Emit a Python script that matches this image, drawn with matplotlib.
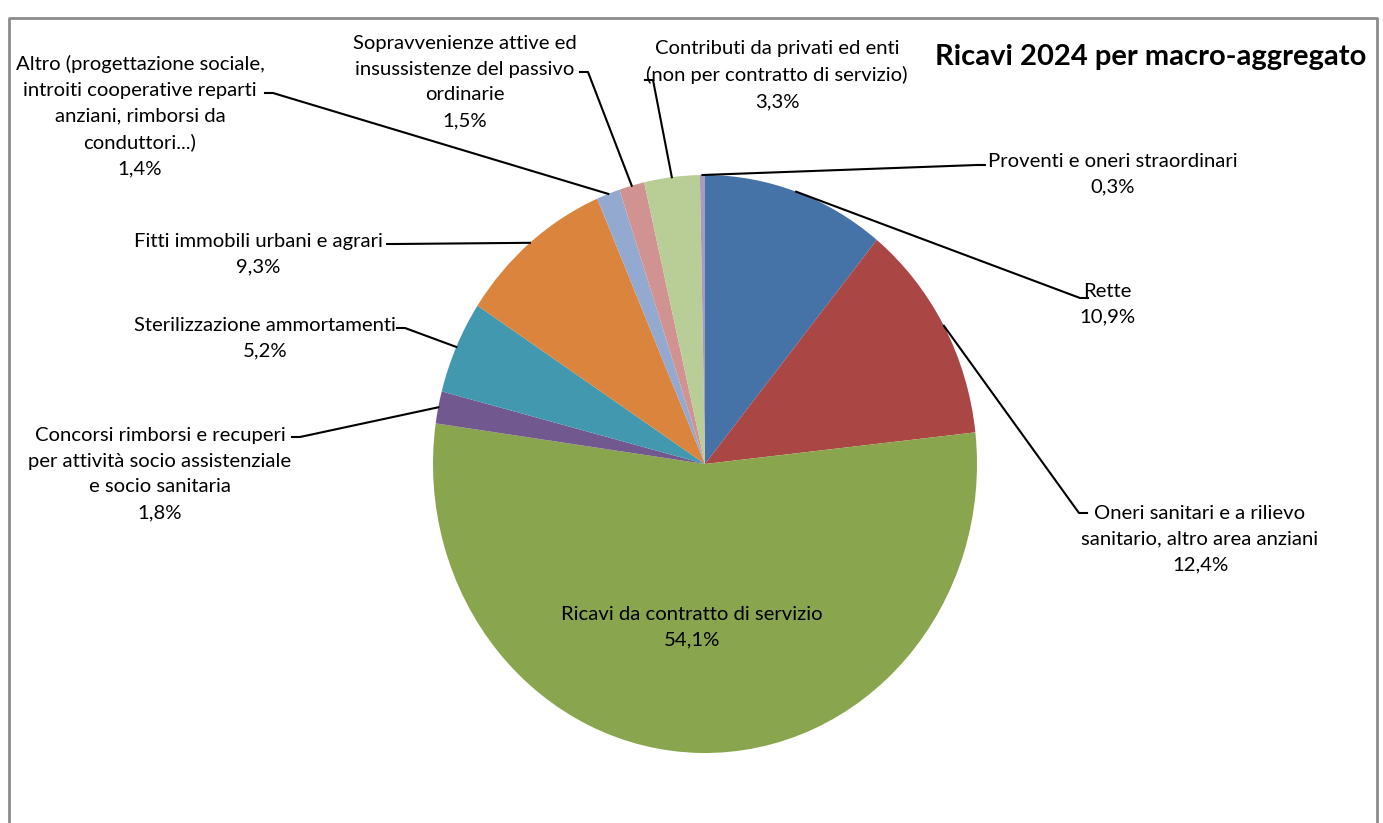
import matplotlib.pyplot as plt
import numpy as np

# Ricavi 2024 per macro-aggregato
voci = [
    'Rette',
    'Oneri sanitari e a rilievo\nsanitario, altro area anziani',
    'Ricavi da contratto di servizio',
    'Concorsi rimborsi e recuperi\nper attività socio assistenziale\ne socio sanitaria',
    'Sterilizzazione ammortamenti',
    'Fitti immobili urbani e agrari',
    'Altro (progettazione sociale,\nintroiti cooperative reparti\nanziani, rimborsi da\nconduttori...)',
    'Sopravvenienze attive ed\ninsussistenze del passivo\nordinarie',
    'Contributi da privati ed enti\n(non per contratto di servizio)',
    'Proventi e oneri straordinari',
]
percentuali = [10.9, 12.4, 54.1, 1.8, 5.2, 9.3, 1.4, 1.5, 3.3, 0.3]
colori = ['#4572A7', '#AA4643', '#89A54E', '#71588F', '#4198AF',
          '#DB843D', '#93A9CF', '#D19392', '#B9CD96', '#A99BBD']

# posizione delle etichette (centro del blocco di testo, pixel) e attacco della linea guida
pos_etichette = [(1107, 304), (1200, 539), (692, 627), (160, 474), (265, 338),
                 (258, 254), (140, 116), (465, 82), (777, 75), (1113, 174)]
attacchi = [(1088, 298), (1087, 513), None, (292, 437), (397, 328),
            (387, 244), (265, 93), (580, 72), (645, 80), (985, 165)]

W, H = 1383, 823
plt.rcParams['font.family'] = ['Lato', 'DejaVu Sans']

fig = plt.figure(figsize=(W / 100, H / 100), dpi=100)

# centro e raggi della torta (leggermente ellittica come in Excel)
cx, cy, rx, ry = 705, 464, 272, 289
ax_pie = fig.add_axes([(cx - rx) / W, (H - cy - ry) / H, 2 * rx / W, 2 * ry / H])
wedges, _ = ax_pie.pie(percentuali, colors=colori, startangle=90, counterclock=False,
                       radius=1, wedgeprops=dict(linewidth=0))
ax_pie.set_xlim(-1, 1)
ax_pie.set_ylim(-1, 1)
ax_pie.set_aspect('auto')
ax_pie.axis('off')

# asse di sovrapposizione in coordinate pixel
ax = fig.add_axes([0, 0, 1, 1], zorder=3)
ax.set_xlim(0, W)
ax.set_ylim(H, 0)
ax.axis('off')
ax.patch.set_alpha(0)

# bordo del grafico
ax.plot([9, 9, 1377, 1377], [H + 5, 18, 18, H + 5], color='#8c8c8c', lw=2, clip_on=False)

ax.text(1151, 57, 'Ricavi 2024 per macro-aggregato', ha='center', va='center',
        fontsize=21, fontweight='bold')

for w, nome, p, (tx, ty), att in zip(wedges, voci, percentuali, pos_etichette, attacchi):
    testo = nome + '\n' + f'{p:.1f}'.replace('.', ',') + '%'
    ax.text(tx, ty, testo, ha='center', va='center', fontsize=14.6, linespacing=1.62)
    if att is None:
        continue
    mid = np.deg2rad((w.theta1 + w.theta2) / 2)
    px, py = ax_pie.transData.transform((np.cos(mid), np.sin(mid)))
    ex, ey = px, H - py
    ax0 = att[0] + (-8 if att[0] > ex else 8)
    ax.plot([att[0], ax0, ex], [att[1], att[1], ey], color='black', lw=1.5)

fig.savefig('out.png', dpi=100)
